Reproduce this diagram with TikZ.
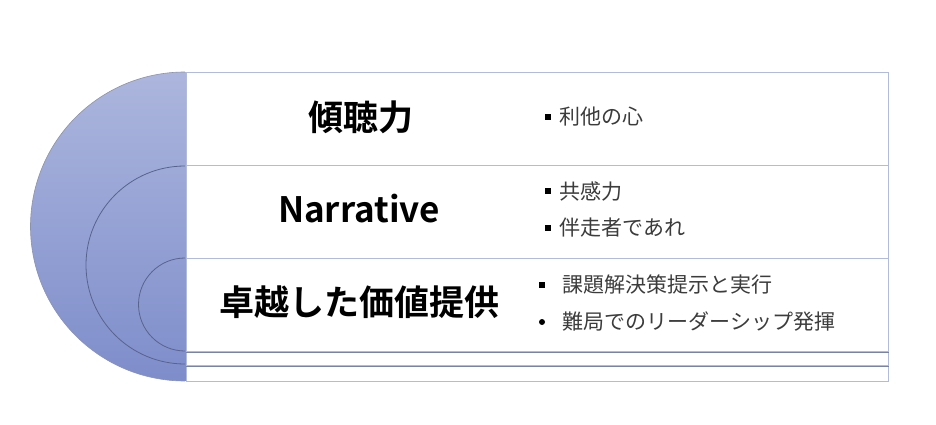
\documentclass[tikz,border=0pt]{standalone}
\usepackage{fontspec}
\setmainfont{Noto Sans CJK JP}
\newfontfamily\jpbold[BoldFont={* Bold}]{Noto Sans CJK JP}
\definecolor{gtop}{RGB}{172,182,221}
\definecolor{gbot}{RGB}{126,141,203}
\definecolor{ringline}{RGB}{88,100,140}
\definecolor{boxline}{RGB}{178,188,218}
\definecolor{txtgray}{RGB}{60,60,60}
\tikzset{
  x=1pt, y=-1pt,
  disc/.style={top color=gtop, bottom color=gbot},
  ring/.style={draw=ringline, line width=0.8pt},
  layerbox/.style={fill=white, draw=boxline, line width=1pt},
  title/.style={font=\jpbold\bfseries\fontsize{35}{40}\selectfont, text=black, anchor=center},
  item/.style={font=\fontsize{21}{24}\selectfont, text=txtgray, anchor=west},
  sqbullet/.style={fill=black, minimum size=6pt, inner sep=0pt},
  rdbullet/.style={circle, fill=black, minimum size=6pt, inner sep=0pt}
}
\begin{document}
\begin{tikzpicture}
\useasboundingbox (0,0) rectangle (936,425);
% discs
\shade[disc] (185,226.5) circle (154.5);
\draw[ring, draw=ringline!70, line width=0.6pt] (185,72) arc[start angle=270, end angle=90, radius=154.5];
\draw[ring] (185,166) arc[start angle=270, end angle=90, radius=99];
\draw[ring] (185,258) arc[start angle=270, end angle=90, radius=46.5];
% boxes
\node[layerbox, minimum width=702pt, minimum height=309pt, anchor=north west, inner sep=0pt] (b1) at (185.5,72) {};
\node[layerbox, minimum width=702pt, minimum height=200pt, anchor=north west, inner sep=0pt] (b2) at (185.5,165) {};
\node[layerbox, minimum width=702pt, minimum height=93pt, anchor=north west, inner sep=0pt] (b3) at (185.5,258) {};
\draw[ringline!80, line width=0.6pt] (b2.south west) -- (b2.south east);
\draw[ringline!80, line width=0.6pt] (b3.south west) -- (b3.south east);
% titles
\node[title] (t1) at (361,117) {傾聴力};
\node[title] (t2) at (359,209) {Narrative};
\node[title] (t3) at (359,302) {卓越した価値提供};
% items
\node[sqbullet] (s1) at (548,117) {};
\node[item] (i1) at (556,117) {利他の心};
\node[sqbullet] (s2) at (548,191) {};
\node[item] (i2) at (556,191) {共感力};
\node[sqbullet] (s3) at (548,228) {};
\node[item] (i3) at (556,228) {伴走者であれ};
\node[sqbullet] (s4) at (542,285) {};
\node[item] (i4) at (559,285) {課題解決策提示と実行};
\node[rdbullet] (s5) at (542,322) {};
\node[item] (i5) at (559,322) {難局でのリーダーシップ発揮};
\end{tikzpicture}
\end{document}
